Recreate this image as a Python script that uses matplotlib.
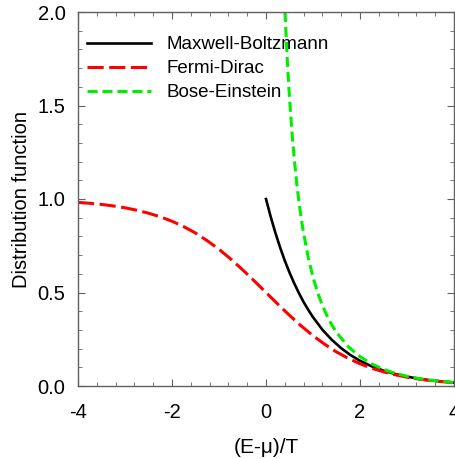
import matplotlib
matplotlib.use('Agg')
import matplotlib.pyplot as plt
from matplotlib.ticker import MultipleLocator

plt.rcParams['font.family'] = ['Liberation Sans', 'DejaVu Sans']
plt.rcParams['axes.unicode_minus'] = False

# values
x_fd = [-4, -3.75, -3.5, -3.25, -3, -2.75, -2.5, -2.25, -2, -1.75, -1.5, -1.25, -1,
        -0.75, -0.5, -0.25, 0, 0.25, 0.5, 0.75, 1, 1.25, 1.5, 1.75, 2, 2.25, 2.5,
        2.75, 3, 3.25, 3.5, 3.75, 4]
y_fd = [0.982, 0.977, 0.971, 0.963, 0.953, 0.940, 0.924, 0.905, 0.881, 0.852, 0.818,
        0.777, 0.731, 0.679, 0.622, 0.562, 0.500, 0.438, 0.378, 0.321, 0.269, 0.223,
        0.182, 0.148, 0.119, 0.095, 0.076, 0.060, 0.047, 0.037, 0.029, 0.023, 0.018]

x_mb = [0, 0.1, 0.2, 0.3, 0.4, 0.5, 0.6, 0.7, 0.8, 0.9, 1.0, 1.2, 1.4, 1.6, 1.8, 2.0,
        2.25, 2.5, 2.75, 3, 3.25, 3.5, 3.75, 4]
y_mb = [1.0, 0.905, 0.819, 0.741, 0.670, 0.607, 0.549, 0.497, 0.449, 0.407, 0.368,
        0.301, 0.247, 0.202, 0.165, 0.135, 0.105, 0.082, 0.064, 0.050, 0.039, 0.030,
        0.024, 0.018]

x_be = [0.405, 0.42, 0.45, 0.47, 0.5, 0.55, 0.6, 0.65, 0.7, 0.75, 0.8, 0.9, 1.0, 1.1,
        1.2, 1.3, 1.4, 1.5, 1.75, 2, 2.25, 2.5, 2.75, 3, 3.25, 3.5, 3.75, 4]
y_be = [2.0, 1.916, 1.760, 1.667, 1.541, 1.365, 1.217, 1.092, 0.986, 0.895, 0.816,
        0.685, 0.582, 0.498, 0.431, 0.374, 0.327, 0.287, 0.210, 0.157, 0.118, 0.089,
        0.068, 0.052, 0.040, 0.031, 0.024, 0.019]

fig = plt.figure(figsize=(4.55, 4.59), dpi=100)
ax = fig.add_axes([78 / 455, 73 / 459, 376 / 455, 374 / 459])

ax.plot(x_mb, y_mb, color='black', lw=1.9, label='Maxwell-Boltzmann')
ax.plot(x_fd, y_fd, color='#ff0000', lw=2.2, dashes=(5.3, 1.8), label='Fermi-Dirac')
ax.plot(x_be, y_be, color='#00ee00', lw=2.2, dashes=(3.3, 1.6), label='Bose-Einstein')

ax.set_xlim(-4, 4)
ax.set_ylim(0, 2)
ax.xaxis.set_major_locator(MultipleLocator(2))
ax.xaxis.set_minor_locator(MultipleLocator(0.4))
ax.yaxis.set_major_locator(MultipleLocator(0.5))
ax.yaxis.set_minor_locator(MultipleLocator(0.1))
ax.yaxis.set_major_formatter(plt.FormatStrFormatter('%.1f'))

for s in ax.spines.values():
    s.set_color('#606060')
    s.set_linewidth(1.0)
ax.tick_params(which='both', direction='in', top=True, right=True, color='#606060',
               labelsize=14.5)
ax.tick_params(which='major', length=5)
ax.tick_params(which='minor', length=3)
ax.tick_params(axis='y', which='major', pad=9)
ax.tick_params(axis='x', which='major', pad=12)

ax.set_xlabel('(E-\u03bc)/T', fontsize=15, labelpad=12)
ax.set_ylabel('Distribution function', fontsize=14.5, labelpad=5)

ax.legend(loc='upper left', frameon=False, fontsize=13.5, handlelength=3.4,
          handletextpad=0.85, labelspacing=0.36, borderaxespad=0,
          bbox_to_anchor=(0.004, 0.955))

fig.savefig('out.png', dpi=100)
